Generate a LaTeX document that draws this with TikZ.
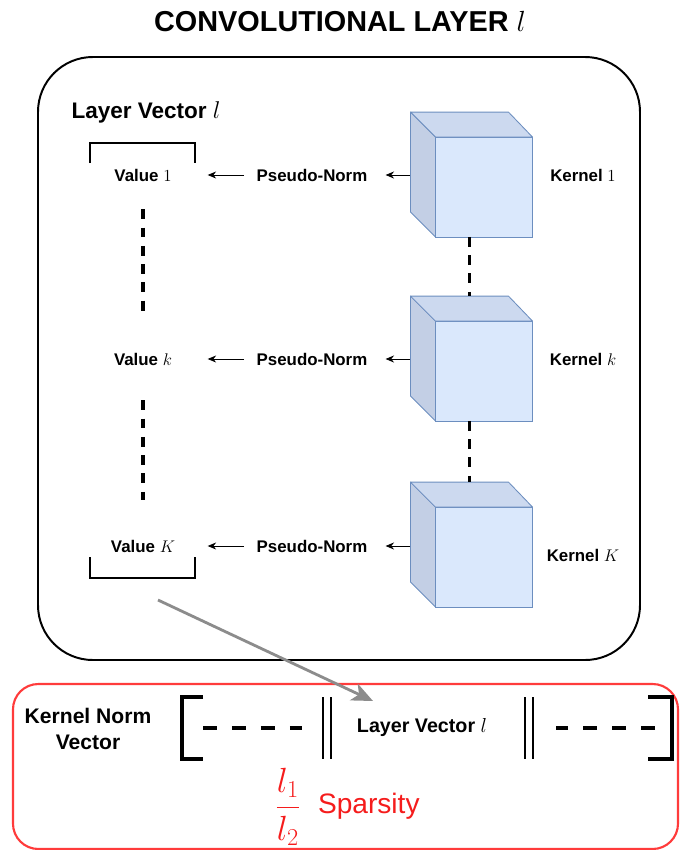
\documentclass[tikz,border=0pt]{standalone}
\usepackage{fontspec}
\setmainfont{Liberation Sans}
\usepackage{xcolor}
\usetikzlibrary{arrows.meta, positioning}

\definecolor{cubefront}{HTML}{DAE8FC}
\definecolor{cubetop}{HTML}{CCD9EF}
\definecolor{cubeleft}{HTML}{C3CFE5}
\definecolor{cubeline}{HTML}{6C8EBF}
\definecolor{normred}{HTML}{FF3B3B}
\definecolor{textred}{HTML}{F51C1C}

\begin{document}
\begin{tikzpicture}[
		x=0.025cm, y=-0.025cm,
		every node/.style={inner sep=0pt, outer sep=0pt, font=\fontsize{12}{14}\selectfont\bfseries},
		layer box/.style={draw, line width=1.4pt, rounded corners=39pt},
		norm box/.style={draw=normred, line width=1.5pt, rounded corners=18pt},
		title/.style={font=\fontsize{20.5}{24}\selectfont\bfseries},
		value/.style={minimum width=92pt},
		kernel front/.style={draw=cubeline, fill=cubefront, line width=0.6pt, minimum width=69pt, minimum height=71pt},
		kernel top/.style={draw=cubeline, fill=cubetop, line width=0.6pt, line join=round},
		kernel left/.style={draw=cubeline, fill=cubeleft, line width=0.6pt, line join=round},
		norm arrow/.style={-{Stealth[length=6pt, width=5pt]}, line width=0.6pt},
		gap line/.style={line width=2.2pt, dash pattern=on 7pt off 6pt},
		bracket/.style={line width=1.8pt},
		vec dash/.style={line width=2.8pt, dash pattern=on 10.3pt off 10.3pt},
		vec bar/.style={line width=2pt},
		copy arrow/.style={-{Stealth[length=15pt, width=13pt, inset=4pt]}, draw=black!45, line width=2pt},
		sparse/.style={text=textred, font=\fontsize{20}{24}\selectfont}
		]

	\useasboundingbox (0,0) rectangle (680,850);

	% Frames
	\draw[layer box] (38,57) rectangle (640,660);
	\draw[norm box] (13,684) rectangle (678,849);

	\node[title] (title) at (340,22) {CONVOLUTIONAL LAYER $l$};
	\node[font=\fontsize{16}{19}\selectfont\bfseries] (lv-in) at (146,112) {Layer Vector $l$};

	% Kernels, norms and values
	\foreach \row/\vy/\cy/\ky/\lab in {first/175/187/175/1, mid/359/371/359/k, last/546/557/555/K}{
		\node[value] (val-\row) at (143,\vy) {Value $\lab$};
		\node (pn-\row) at (312,\vy) {Pseudo-Norm};
		\node[kernel front] (ker-\row) at (484,\cy) {};
		\draw[kernel left] (ker-\row.north west) -- ++(-25,-25) -- ++(0,100) -- (ker-\row.south west) -- cycle;
		\draw[kernel top] (ker-\row.north west) -- ++(-25,-25) -- ++(98,0) -- (ker-\row.north east) -- cycle;
		\node (kl-\row) at (583,\ky) {Kernel $\lab$};
		\coordinate (in-\row) at (410,\vy);
		\draw[norm arrow, shorten >=13pt] (in-\row) -- (pn-\row.east);
		\draw[norm arrow, shorten <=9pt] (pn-\row.west) -- (val-\row.east);
	}

	% Dots between kernels
	\draw[gap line] ([xshift=-10pt]ker-first.south) -- ([xshift=-10pt, yshift=18pt]ker-mid.north);
	\draw[gap line] ([xshift=-10pt]ker-mid.south) -- ([xshift=-10pt, yshift=18pt]ker-last.north);

	% Dots between values
	\draw[gap line, shorten <=20pt, shorten >=30pt] (val-first.south) -- (val-mid.north);
	\draw[gap line, shorten <=25pt, shorten >=28pt] (val-mid.south) -- (val-last.north);

	% Vector brackets
	\draw[bracket] (90,163) -- (90,143) -- (195,143) -- (195,163);
	\draw[bracket] (90,557) -- (90,578) -- (195,578) -- (195,557);

	% Kernel norm vector
	\node[font=\fontsize{15}{18.5}\selectfont\bfseries, align=center] (knv) at (88,729) {Kernel Norm\\Vector};
	\node[font=\fontsize{14}{17}\selectfont\bfseries] (lv-out) at (422,728) {Layer Vector $l$};
	\draw[bracket, line width=2.2pt] (203,697) -- (182,697) -- (182,759) -- (203,759);
	\draw[bracket, line width=2.2pt] (648,697) -- (672,697) -- (672,759) -- (648,759);
	\draw[vec dash] (203,728) -- (302,728);
	\draw[vec dash] (655,728) -- (556,728);
	\draw[vec bar] (323,697) -- (323,759) (331,697) -- (331,759);
	\draw[vec bar] (525,697) -- (525,759) (533,697) -- (533,759);

	% Layer vector goes into the kernel norm vector
	\coordinate (lv-from) at (158,600);
	\coordinate (lv-to) at (373,701);
	\draw[copy arrow] (lv-from) -- (lv-to);

	% Sparsity
	\node[sparse, font=\fontsize{24}{28}\selectfont] (l1l2) at (288,807) {$\displaystyle\frac{l_1}{l_2}$};
	\node[sparse, anchor=base west] (spars) at (318,813) {Sparsity};

\end{tikzpicture}
\end{document}
